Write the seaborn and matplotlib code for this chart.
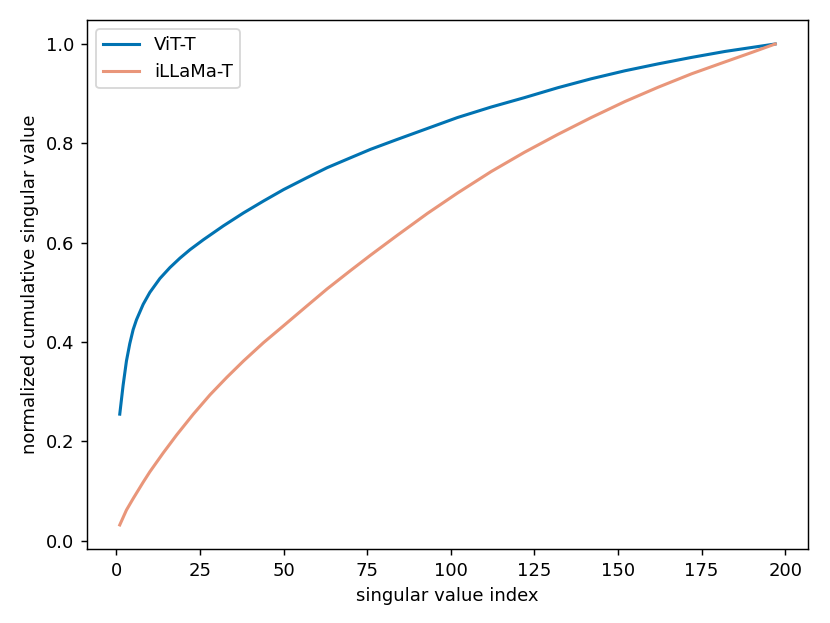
import matplotlib
matplotlib.use("Agg")
import matplotlib.pyplot as plt
import seaborn as sb

# values
vit_idx = [1, 2, 3, 4, 5, 6, 8, 10, 13, 16, 19, 22, 26, 32, 38, 44, 50, 57, 63, 70, 76,
           84, 93, 102, 112, 122, 132, 142, 152, 162, 172, 182, 190, 197]
vit_val = [0.255, 0.313, 0.362, 0.397, 0.425, 0.445, 0.476, 0.500, 0.528, 0.550, 0.569,
           0.586, 0.606, 0.634, 0.660, 0.684, 0.707, 0.731, 0.751, 0.771, 0.788,
           0.808, 0.830, 0.852, 0.873, 0.892, 0.912, 0.930, 0.946, 0.960, 0.973,
           0.985, 0.993, 1.0]

illama_idx = [1, 3, 5, 8, 10, 14, 18, 23, 28, 33, 38, 44, 50, 57, 63, 70, 76, 84, 93,
              102, 112, 122, 132, 142, 152, 162, 172, 182, 190, 197]
illama_val = [0.032, 0.062, 0.085, 0.118, 0.139, 0.177, 0.213, 0.255, 0.294, 0.329,
              0.362, 0.399, 0.433, 0.473, 0.507, 0.544, 0.575, 0.615, 0.659, 0.700,
              0.743, 0.782, 0.818, 0.852, 0.884, 0.913, 0.940, 0.964, 0.983, 1.0]

fig = plt.figure(figsize=(830 / 130, 623 / 130), dpi=130)
ax = fig.add_axes([0.1048, 0.1188, 0.8687, 0.8492])

sb.lineplot(x=vit_idx, y=vit_val, color="#0173B2", linewidth=1.7, label="ViT-T", ax=ax)
sb.lineplot(x=illama_idx, y=illama_val, color="darksalmon", linewidth=1.7, label="iLLaMa-T", ax=ax)

ax.set_xlabel("singular value index")
ax.set_ylabel("normalized cumulative singular value")
ax.set_xticks([0, 25, 50, 75, 100, 125, 150, 175, 200])
ax.set_yticks([0.0, 0.2, 0.4, 0.6, 0.8, 1.0])
ax.legend(loc="upper left")

fig.savefig("out.png", dpi=130)
